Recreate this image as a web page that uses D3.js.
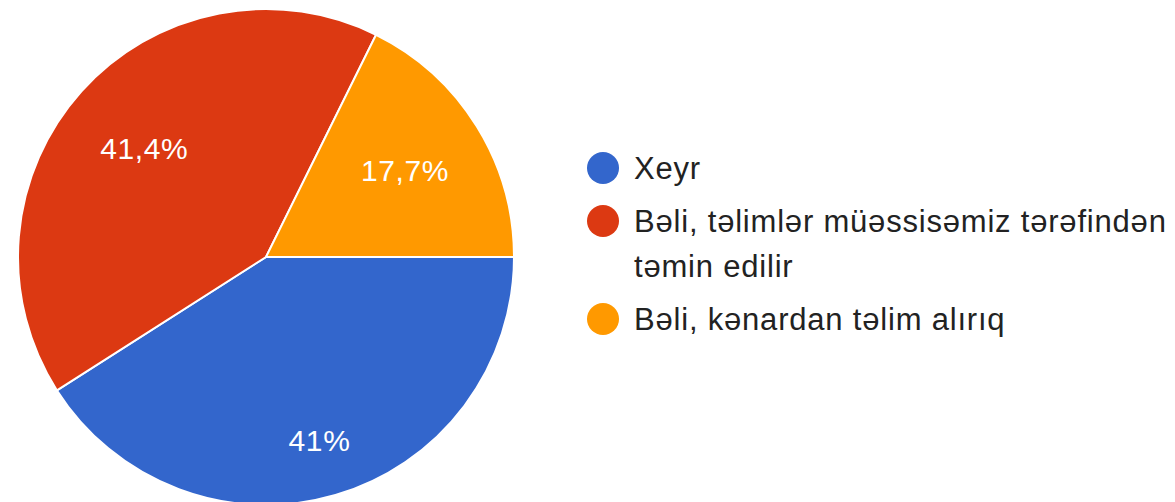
<!DOCTYPE html>
<html>
<head>
<meta charset="utf-8">
<script src="https://cdn.jsdelivr.net/npm/d3@7"></script>
<style>
  body { margin: 0; background: #fff; }
  svg { display: block; font-family: "Liberation Sans", Arial, sans-serif; }
</style>
</head>
<body>
<div id="grafico"></div>
<script>
// Data
var categorias = ["Xeyr", "Bəli, təlimlər müəssisəmiz tərəfindən təmin edilir", "Bəli, kənardan təlim alırıq"];
var valores = [41, 41.4, 17.7];
var etiquetas = ["41%", "41,4%", "17,7%"];
var colores = ["#3366cc", "#dc3912", "#ff9900"];

function dibujarPastel() {
    const ancho = 1175, altura = 502;
    const cx = 266, cy = 257, radio = 248;
    // label distance from centre (as fraction of radius), per slice
    const radioEtiqueta = [0.77, 0.66, 0.66];

    var svg = d3.select("#grafico").append("svg")
        .attr("width", ancho)
        .attr("height", altura);

    var datos = categorias.map(function (c, i) {
        return { nombre: c, valor: valores[i], etiqueta: etiquetas[i], color: colores[i], i: i };
    });

    // starts at 3 o'clock, goes clockwise
    var pie = d3.pie()
        .sort(null)
        .value(function (d) { return d.valor; })
        .startAngle(Math.PI / 2)
        .endAngle(Math.PI / 2 + 2 * Math.PI);

    var arco = d3.arc().innerRadius(0).outerRadius(radio);

    var g = svg.append("g").attr("transform", "translate(" + cx + "," + cy + ")");

    var arcos = pie(datos);

    g.selectAll("path")
        .data(arcos)
        .enter().append("path")
        .attr("d", arco)
        .attr("fill", function (d) { return d.data.color; })
        .attr("stroke", "#fff")
        .attr("stroke-width", 2);

    g.selectAll("text.pct")
        .data(arcos)
        .enter().append("text")
        .attr("class", "pct")
        .attr("transform", function (d) {
            var r = radio * radioEtiqueta[d.data.i];
            var a = (d.startAngle + d.endAngle) / 2;
            return "translate(" + (r * Math.sin(a)) + "," + (-r * Math.cos(a)) + ")";
        })
        .attr("text-anchor", "middle")
        .attr("dy", "0.36em")
        .attr("fill", "#fff")
        .style("font-size", "30px")
        .style("letter-spacing", "0.6px")
        .text(function (d) { return d.data.etiqueta; });

    // Legend
    var leyenda = svg.append("g").attr("transform", "translate(603,0)");
    var maxAncho = 545, interlinea = 45, separacion = 53;
    var y = 168;

    datos.forEach(function (d) {
        var fila = leyenda.append("g");
        fila.append("circle")
            .attr("cx", 0)
            .attr("cy", y)
            .attr("r", 16)
            .attr("fill", d.color);

        var texto = fila.append("text")
            .attr("x", 31)
            .attr("y", y)
            .attr("dy", "0.36em")
            .attr("fill", "#222")
            .style("font-size", "31px")
            .style("letter-spacing", "0.8px");

        // wrap words into lines
        var palabras = d.nombre.split(" ");
        var linea = [];
        var nLineas = 1;
        var tspan = texto.append("tspan").attr("x", 31);
        palabras.forEach(function (p) {
            linea.push(p);
            tspan.text(linea.join(" "));
            if (tspan.node().getComputedTextLength() > maxAncho && linea.length > 1) {
                linea.pop();
                tspan.text(linea.join(" "));
                linea = [p];
                tspan = texto.append("tspan").attr("x", 31).attr("dy", interlinea).text(p);
                nLineas++;
            }
        });

        y += separacion + (nLineas - 1) * interlinea;
    });
}

dibujarPastel();
</script>
</body>
</html>
